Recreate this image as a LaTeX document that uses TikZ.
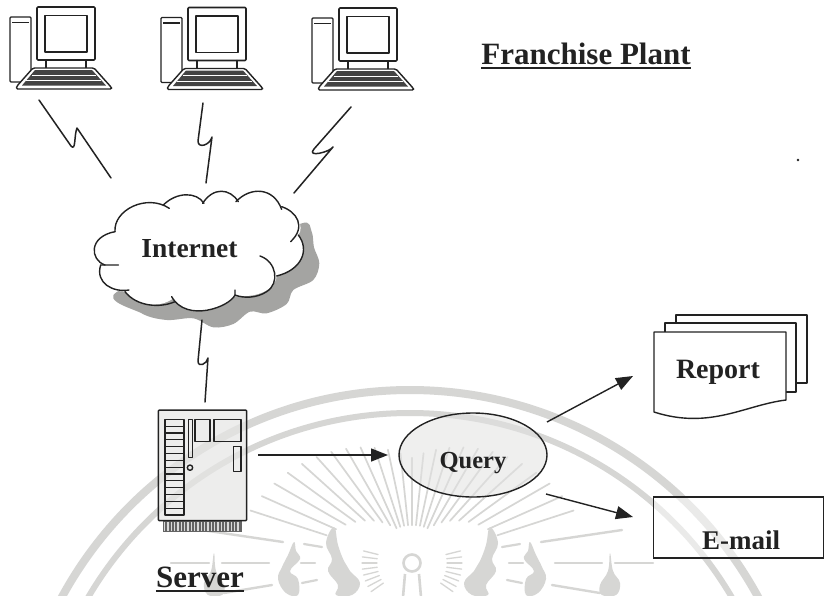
\documentclass[tikz,border=0pt]{standalone}
\usepackage{fontspec}
\setmainfont{Liberation Serif}
\usetikzlibrary{shapes.geometric,arrows.meta,calc}
\definecolor{ink}{HTML}{222222}
\definecolor{wm}{HTML}{D6D6D4}
\definecolor{shadowc}{HTML}{A4A4A2}
\tikzset{
  line/.style={draw=ink,line width=1.4pt,line join=round,line cap=round},
  bolt/.style={draw=ink,line width=1.5pt,line join=round,line cap=round},
  arr/.style={draw=ink,line width=1.4pt,-{Triangle[length=17pt,width=13pt]}},
  label/.style={font=\bfseries,text=ink,inner sep=0pt},
  wmline/.style={draw=wm,line cap=round},
  cloudarc/.style={draw=ink,line width=1.4pt,line cap=round},
}
\newcommand{\pcdraw}[3]{%
  \begin{scope}[shift={(#1pt,-#2pt)}]
    \node[inner sep=0pt,minimum width=102pt,minimum height=82pt] (#3) at (60,47) {};
    \draw[line,rounded corners=1pt,fill=white] (10,17) rectangle (31,82);
    \draw[ink,line width=1.8pt] (12,22.5) -- (29,22.5);
    \draw[line,line width=1.6pt,rounded corners=1pt] (37,7) rectangle (95,60);
    \draw[line,line width=1.8pt] (45,15.5) rectangle (87,52);
    \draw[line] (46,60) -- (46,68) (86,60) -- (86,68);
    \draw[line,fill=white,rounded corners=1.5pt] (33,68) -- (94,68) -- (111,87) -- (112,89) -- (16,89) -- (17,86) -- cycle;
    \fill[ink!85] (35,70) -- (92,70) -- (106,85.5) -- (22,85.5) -- cycle;
    \draw[white,line width=.9pt] (32,75) -- (96,75) (26,80.5) -- (101,80.5);
  \end{scope}}
\newcommand{\wmhalf}{%
  \foreach \a in {90,84,78,72,66,60,54,48,42,36,30,24,18}{
    \pgfmathsetmacro{\dd}{90-\a}
    \pgfmathsetmacro{\rone}{38+max(0,\dd-25)*1.1}
    \pgfmathsetmacro{\rtwo}{105+0.9*\dd}
    \draw[wmline,line width=1.7pt] (\a:{\rone} and {-\rone}) -- (\a:{\rtwo} and {-\rtwo});
  }
  \foreach \a in {14,7,0,-7,-14,-21,-28,-35}{
    \draw[wmline,line width=1.3pt] (\a:{35} and {-35}) -- (\a:{50} and {-50});
  }
  \draw[wmline,line width=2.4pt] (129,-21) -- (210,-33);
  \draw[wmline,line width=2.4pt] (143,0) -- (190,0);
  \draw[wmline,line width=2.4pt] (203,0) -- (241,0);
  \draw[wmline,line width=2.4pt] (140,22) -- (188,30);
  \draw[wmline,line width=2.2pt] (90,-16) -- (108,-19);
  \draw[wmline,line width=2.2pt] (97,0) -- (111,0);
  \draw[wmline,line width=2.2pt] (95,17) -- (110,20);
  \fill[wm] plot[smooth cycle,tension=.7] coordinates {(78,-36) (86,-20) (80,-4) (84,8) (74,22) (76,32) (60,32) (52,20) (62,8) (68,-2) (74,-18)};
  \fill[wm] plot[smooth cycle,tension=.7] coordinates {(118,-21) (124,-8) (130,4) (134,16) (126,30) (114,32) (114,16) (122,8) (112,-4) (116,-12)};
  \fill[wm] plot[smooth cycle,tension=.7] coordinates {(198,-10) (201,8) (208,20) (204,32) (190,32) (188,22) (196,8)};
}
\begin{document}
\begin{tikzpicture}[x=1pt,y=-1pt]
\useasboundingbox (0,0) rectangle (824,595);
\fill[white] (0,0) rectangle (824,595);
% watermark
\begin{scope}
  \clip (0,0) rectangle (824,595);
  \draw[wm,line width=8pt] (410,786) circle[radius=396];
  \draw[wm,line width=6pt] (410,786) circle[radius=373];
  \begin{scope}[shift={(412pt,-563pt)}]
    \wmhalf
    \begin{scope}[xscale=-1]\wmhalf\end{scope}
    \draw[wm,line width=2.6pt] (0,0) circle[radius=8.5];
    \draw[wm,line width=2.6pt] (-7,11) -- (-9,34) (7,11) -- (9,34);
  \end{scope}
\end{scope}
% computers
\pcdraw{0}{0}{pca}
\pcdraw{151}{.5}{pcb}
\pcdraw{302}{1}{pcc}
% cloud
\begin{scope}[shift={(80pt,-170pt)},x=.3333pt,y=-.3333pt]
  \fill[shadowc] plot[smooth cycle,tension=.55] coordinates {(112,365) (185,430) (260,450) (340,445) (400,472) (460,462) (510,425) (560,430) (620,402) (640,360) (700,330) (718,280) (702,232) (695,185) (665,160) (500,250)};
  \fill[white] (105,185) .. controls (100,120) and (200,70) .. (258,104)
    .. controls (290,65) and (350,65) .. (372,95)
    .. controls (400,50) and (450,55) .. (473,90)
    .. controls (510,50) and (580,50) .. (605,112)
    .. controls (650,125) and (675,170) .. (655,195)
    .. controls (690,240) and (665,300) .. (590,318)
    .. controls (590,340) and (560,385) .. (465,378)
    .. controls (450,410) and (320,460) .. (280,385)
    .. controls (240,415) and (170,410) .. (135,365)
    .. controls (100,365) and (50,340) .. (62,285)
    .. controls (30,260) and (25,200) .. (105,185) -- cycle;
  \draw[cloudarc] (105,185) .. controls (100,120) and (200,70) .. (268,115);
  \draw[cloudarc] (250,105) .. controls (290,65) and (350,65) .. (372,100);
  \draw[cloudarc] (368,100) .. controls (400,50) and (450,55) .. (475,95);
  \draw[cloudarc] (468,95) .. controls (510,50) and (580,50) .. (605,118);
  \draw[cloudarc] (605,110) .. controls (650,125) and (680,170) .. (632,215);
  \draw[cloudarc] (655,195) .. controls (690,240) and (665,300) .. (590,318);
  \draw[cloudarc] (540,258) .. controls (590,275) and (600,340) .. (560,365) .. controls (530,385) and (490,385) .. (465,375) -- (465,360);
  \draw[cloudarc] (465,375) .. controls (450,410) and (320,460) .. (275,380);
  \draw[cloudarc] (285,395) .. controls (240,415) and (170,410) .. (135,365);
  \draw[cloudarc] (147,360) .. controls (100,368) and (45,340) .. (62,285) -- (115,285);
  \draw[cloudarc] (75,285) .. controls (30,270) and (25,200) .. (105,185);
\end{scope}
\node[label,font=\fontsize{27.5}{30}\selectfont\bfseries] (internet) at (189.5,249) {Internet};
\coordinate (cloudbot) at (202,320);
% server
\node[draw=none,inner sep=0pt,minimum width=88pt,minimum height=111pt] (server) at (202.5,465.5) {};
\begin{scope}[shift={(130pt,-380pt)},x=.3333pt,y=-.3333pt]
  \fill[ink!70] (98,422) rectangle (335,455);
  \foreach \i in {0,...,22}{\draw[white!85!black,line width=1.1pt] ({104+\i*10},425) -- ({104+\i*10},452);}
  \draw[line,line width=1.5pt,rounded corners=1pt,fill=wm!60!white,fill opacity=.7] (85,90) rectangle (350,422);
  \draw[line] (105,118) rectangle (162,405);
  \foreach \i in {1,...,13}{\draw[line,line width=1.2pt] (105,{118+\i*20.5}) -- (162,{118+\i*20.5});}
  \draw[line] (175,118) rectangle (187,232);
  \draw[line] (180,263) circle[radius=8];
  \draw[line] (195,118) rectangle (240,185);
  \draw[line] (252,118) rectangle (333,185);
  \draw[line] (310,200) rectangle (333,275);
\end{scope}
\node[label,font=\fontsize{31}{33}\selectfont\bfseries,anchor=base] (serverlabel) at (200,587) {Server};
\draw[ink,line width=1.5pt] ([yshift=-4pt]serverlabel.base west) -- ([yshift=-4pt]serverlabel.base east);
% query
\node[ellipse,draw=ink,line width=1.4pt,fill=wm!70!white,fill opacity=.55,text opacity=1,minimum width=148pt,minimum height=84pt,inner sep=0pt] (query) at (473,455) {};
\node[label,font=\fontsize{24.5}{27}\selectfont\bfseries] (querylabel) at (473,463) {Query};
% report
\draw[line,fill=white] (676,315) rectangle (807,383);
\draw[line,fill=white] (665,323) rectangle (796,392);
\draw[line,fill=white] (654,332) -- (786,332) -- (786,400) .. controls (745,405) and (710,430) .. (654,412) -- cycle;
\node[label,font=\fontsize{28}{30}\selectfont\bfseries] (report) at (718,372) {Report};
\coordinate (reportin) at (633,376);
% email
\node[draw=ink,line width=1.4pt,fill=white,fill opacity=.5,minimum width=170pt,minimum height=61pt,inner sep=0pt] (emailbox) at (738.5,527.5) {};
\node[label,font=\fontsize{27}{29}\selectfont\bfseries] (email) at (741,540) {E-mail};
\coordinate (emailin) at (633,517);
% title
\node[label,font=\fontsize{31}{33}\selectfont\bfseries,anchor=base] (plant) at (586,64) {Franchise Plant};
\draw[ink,line width=1.6pt] ([yshift=-4pt]plant.base west) -- ([yshift=-4pt]plant.base east);
\fill[ink] (798,160) circle[radius=1.3];
% lightning connectors
\coordinate (ca) at (39,100);
\coordinate (ia) at (111,178);
\coordinate (cb) at (203,103);
\coordinate (ib) at (206,183);
\coordinate (cc) at (351,107);
\coordinate (ic) at (294,193);
\coordinate (sv) at (205,402);
\draw[bolt] (ca) -- (71,146) .. controls (76,152) and (74,135) .. (77,128) -- (ia);
\draw[bolt] (cb) -- (198,141) .. controls (198,149) and (210,145) .. (212,137) -- (ib);
\draw[bolt] (cc) -- (314,149) .. controls (306,158) and (330,152) .. (333,147) -- (ic);
\draw[bolt] (cloudbot) -- (198,361) .. controls (198,368) and (207,364) .. (208,358) -- (sv);
% arrows
\coordinate (serverout) at (258,455);
\coordinate (queryin) at (388,455);
\coordinate (queryne) at (547,422);
\coordinate (queryse) at (546,494);
\draw[arr] (serverout) -- (queryin);
\draw[arr] (queryne) -- (reportin);
\draw[arr] (queryse) -- (emailin);
\end{tikzpicture}
\end{document}
